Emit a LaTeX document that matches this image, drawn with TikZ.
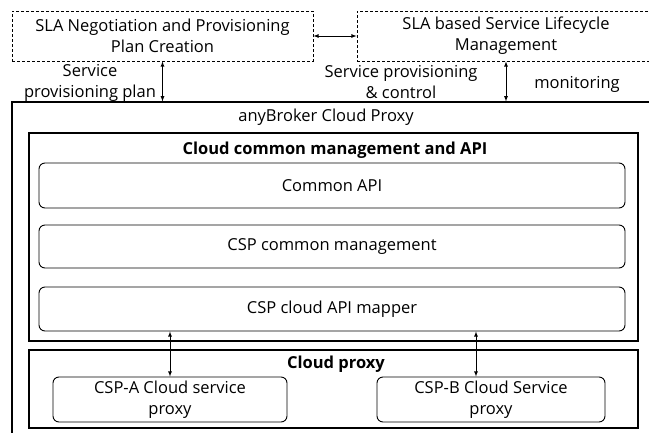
\documentclass[tikz,border=0pt]{standalone}
\usepackage{fontspec}
\setmainfont{Open Sans}
\usetikzlibrary{arrows}

\begin{document}
\begin{tikzpicture}[x = 1pt, y = -1pt, font = \fontsize{16.5}{21}\selectfont, >=latex]
\tikzstyle{planStyle} = [draw, densely dashed, line width = 0.8pt, align = center, inner sep = 0pt]
\tikzstyle{frameStyle} = [draw, line width = 1.2pt, inner sep = 0pt]
\tikzstyle{blockStyle} = [draw, rounded corners = 6pt, line width = 0.9pt, inner sep = 0pt, align = center]
\tikzstyle{titleStyle} = [font = \fontsize{16.5}{21}\selectfont\bfseries]
\tikzstyle{linkStyle} = [<->, line width = 0.8pt]
\useasboundingbox (0, 0) rectangle (649, 432);
\clip (0, 0) rectangle (649, 432);
\node[planStyle, minimum width = 301pt, minimum height = 50pt] (plan) at (162.5, 36) {SLA Negotiation and Provisioning\\Plan Creation};
\node[planStyle, minimum width = 298pt, minimum height = 50pt] (life) at (506, 36) {SLA based Service Lifecycle\\Management};
\node[align = center] (planlabel) at (90, 83) {Service\\provisioning plan};
\node[align = center] (ctrllabel) at (401, 82) {Service provisioning\\\& control};
\node (monlabel) at (577, 84) {monitoring};
\node[frameStyle, minimum width = 648pt, minimum height = 343pt] (broker) at (336, 273.5) {};
\node (brokertitle) at (326, 117) {anyBroker Cloud Proxy};
\node[frameStyle, minimum width = 609pt, minimum height = 208pt] (common) at (333.5, 237) {};
\node[titleStyle] (commontitle) at (335, 150) {Cloud common management and API};
\node[blockStyle, minimum width = 586pt, minimum height = 45pt] (api) at (332, 185.5) {Common API};
\node[blockStyle, minimum width = 586pt, minimum height = 43pt] (mgmt) at (332, 246.5) {CSP common management};
\node[blockStyle, minimum width = 586pt, minimum height = 44pt] (mapper) at (332, 309) {CSP cloud API mapper};
\node[frameStyle, minimum width = 609pt, minimum height = 78pt] (proxy) at (333.5, 389) {};
\node[titleStyle] (proxytitle) at (336, 364) {Cloud proxy};
\node[blockStyle, minimum width = 234pt, minimum height = 45pt] (cspa) at (170, 399.5) {CSP-A Cloud service\\proxy};
\node[blockStyle, minimum width = 228pt, minimum height = 45pt] (cspb) at (491, 399.5) {CSP-B Cloud Service\\proxy};
\draw[linkStyle] (plan) -- (life);
\draw[linkStyle] (plan.south) -- (plan.south |- broker.north);
\draw[linkStyle] (life.south) -- (life.south |- broker.north);
\draw[linkStyle] (cspa.north |- mapper.south) -- (cspa.north);
\draw[linkStyle] ([xshift = -15pt]cspb.north |- mapper.south) -- ([xshift = -15pt]cspb.north);
\end{tikzpicture}
\end{document}
